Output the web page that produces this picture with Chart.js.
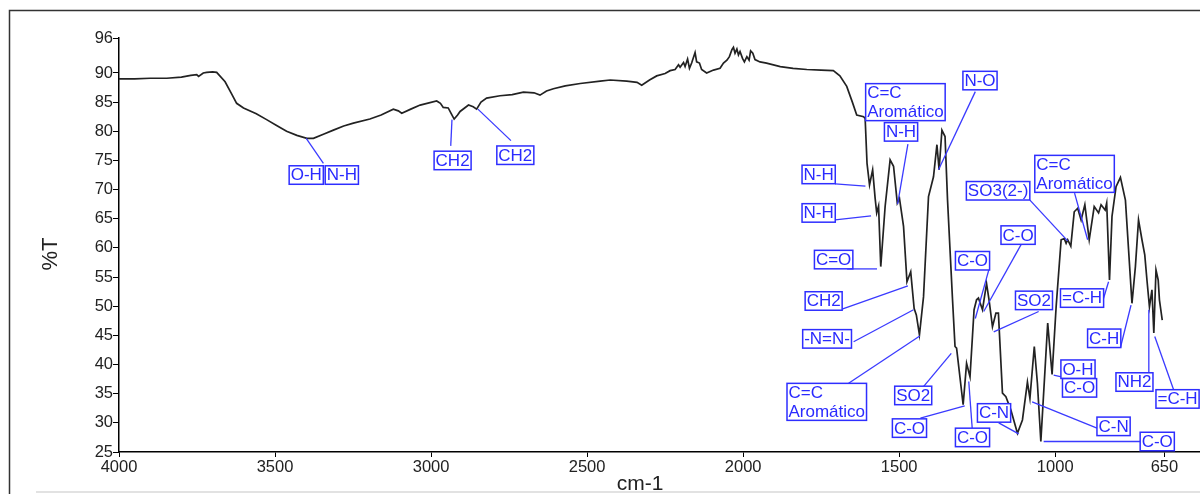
<!DOCTYPE html>
<html>
<head>
<meta charset="utf-8">
<script src="https://cdn.jsdelivr.net/npm/chart.js@4.4.1/dist/chart.umd.min.js"></script>
<style>
    html, body { margin: 0; padding: 0; background: #fff; }
    #wrap { width: 1200px; height: 494px; position: relative; }
</style>
</head>
<body>
<div id="wrap"><canvas id="myChart"></canvas></div>
<script>
// spectrum (cm-1 / %T)
var wavenumbers = [
    4000, 3950, 3900, 3847, 3800, 3770, 3751, 3745, 3730, 3719,
    3700, 3687, 3660, 3640, 3623, 3601, 3560, 3527, 3495, 3463,
    3430, 3398, 3377, 3345, 3313, 3280, 3249, 3196, 3160, 3121,
    3105, 3094, 3065, 3035, 2982, 2970, 2961, 2945, 2935, 2926,
    2915, 2907, 2880, 2865, 2854, 2840, 2822, 2779, 2740, 2704,
    2670, 2651, 2630, 2608, 2570, 2522, 2458, 2426, 2373, 2340,
    2325, 2300, 2277, 2250, 2234, 2218, 2207, 2202, 2191, 2186,
    2178, 2172, 2165, 2154, 2149, 2140, 2133, 2117, 2095, 2074,
    2063, 2052, 2044, 2036, 2031, 2026, 2020, 2015, 2010, 2002,
    1996, 1988, 1981, 1976, 1969, 1962, 1946, 1925, 1881, 1840,
    1796, 1750, 1711, 1690, 1668, 1650, 1636, 1614, 1609, 1603,
    1595, 1585, 1577, 1572, 1566, 1559, 1545, 1529, 1518, 1506,
    1499, 1486, 1475, 1463, 1452, 1445, 1435, 1422, 1406, 1390,
    1379, 1372, 1363, 1353, 1345, 1329, 1321, 1316, 1295, 1284,
    1273, 1260, 1252, 1246, 1233, 1220, 1212, 1201, 1190, 1182,
    1169, 1158, 1142, 1121, 1105, 1089, 1081, 1067, 1057, 1046,
    1024, 1010, 997, 981, 971, 965, 960, 950, 939, 928,
    917, 905, 891, 875, 861, 853, 840, 835, 826, 818,
    805, 791, 775, 754, 743, 733, 722, 713, 706, 698,
    690, 684, 677, 670, 666, 657
];
var transmittance = [
    89.0, 89.0, 89.1, 89.1, 89.3, 89.6, 89.7, 89.4, 90.0, 90.1,
    90.2, 90.1, 88.5, 86.5, 84.8, 84.0, 83.0, 82.0, 81.0, 80.0,
    79.3, 78.8, 78.8, 79.5, 80.2, 80.9, 81.4, 82.1, 82.8, 83.8,
    83.5, 83.1, 83.8, 84.5, 85.2, 84.8, 84.1, 84.0, 83.0, 82.1,
    82.8, 83.4, 84.5, 84.2, 83.8, 85.0, 85.7, 86.1, 86.3, 86.7,
    86.6, 86.2, 86.9, 87.3, 87.8, 88.2, 88.6, 88.8, 88.6, 88.4,
    87.9, 88.8, 89.5, 89.9, 90.4, 90.6, 91.4, 91.0, 91.8, 91.1,
    92.4, 90.8, 91.7, 93.5, 91.9, 91.7, 90.6, 90.0, 90.5, 90.8,
    91.7, 92.2, 92.8, 94.0, 94.4, 93.4, 94.1, 93.1, 93.7, 92.5,
    91.9, 92.8, 92.2, 93.8, 93.4, 92.3, 91.9, 91.7, 91.1, 90.8,
    90.6, 90.5, 90.4, 89.5, 87.7, 85.0, 82.8, 82.5, 82.2, 74.5,
    70.8, 73.4, 68.5, 66.0, 67.2, 56.8, 67.1, 75.1, 74.0, 67.7,
    68.5, 63.7, 54.2, 55.9, 49.6, 48.5, 45.1, 51.6, 68.8, 72.2,
    77.7, 73.4, 80.2, 79.1, 68.2, 51.1, 43.1, 42.8, 33.1, 40.2,
    37.9, 49.4, 51.1, 51.4, 49.4, 53.9, 51.1, 46.5, 48.8, 48.8,
    35.1, 34.5, 32.2, 28.2, 30.5, 37.0, 34.2, 43.1, 36.8, 26.8,
    47.1, 38.3, 49.9, 61.4, 61.6, 60.8, 61.4, 60.3, 66.2, 66.8,
    64.8, 67.4, 61.4, 67.1, 66.0, 67.4, 66.5, 67.7, 54.5, 65.4,
    70.5, 72.1, 68.2, 50.5, 56.8, 64.8, 61.4, 58.8, 54.5, 49.9,
    52.8, 45.4, 56.2, 54.5, 51.1, 47.6
];

var xTicks = [4000, 3500, 3000, 2500, 2000, 1500, 1000, 650];
var yTicks = [25, 30, 35, 40, 45, 50, 55, 60, 65, 70, 75, 80, 85, 90, 96];

// peak labels
var labelText = ['O-H', 'N-H', 'CH2', 'CH2', 'C=C\nAromático', 'N-H', 'N-O', 'N-H', 'N-H', 'C=O',
    'CH2', '-N=N-', 'C=C\nAromático', 'SO2', 'C-O', 'C-O', 'C-O', 'C-O', 'SO2', 'SO3(2-)',
    'C=C\nAromático', '=C-H', 'C-H', 'O-H', 'C-O', 'NH2', '=C-H', 'C-N', 'C-N', 'C-O'];
// label box centres, in cm-1 / %T
var labelAt = [[3400, 72.5], [3286, 72.5], [2931, 75.0], [2730, 75.9], [1480, 85.0], [1494, 79.9],
    [1241, 88.7], [1758, 72.6], [1758, 66.0], [1710, 58.0], [1742, 50.9], [1731, 44.4],
    [1732, 33.6], [1455, 34.7], [1467, 29.1], [1265, 27.5], [1265, 57.8], [1119, 62.2],
    [1068, 51.0], [1183, 69.8], [938, 72.7], [914, 51.4], [843, 44.5], [927, 39.2],
    [922, 36.0], [746, 37.0], [608, 34.1], [1196, 31.7], [813, 29.4], [673, 26.8]];
// leader lines, label end -> peak end
var leaderLine = [[3345, 74.5, 3400, 78.8], null, [2937, 77.5, 2933, 82.0], [2744, 78.4, 2850, 83.8],
    null, [1472, 77.8, 1505, 67.5], [1256, 86.8, 1374, 73.4], [1705, 71.0, 1608, 70.6],
    [1705, 64.8, 1590, 65.5], [1667, 56.4, 1571, 56.4], [1683, 49.5, 1472, 53.5],
    [1646, 43.9, 1454, 49.4], [1662, 36.8, 1434, 44.9], [1422, 36.2, 1333, 41.9],
    [1432, 30.8, 1290, 32.9], [1266, 29.1, 1277, 37.1], [1213, 56.2, 1256, 47.9],
    [1108, 60.7, 1229, 49.1], [1053, 49.1, 1197, 45.6], [1081, 68.2, 960, 61.2],
    [938, 69.4, 896, 61.4], [846, 51.2, 829, 54.2], [791, 42.9, 757, 50.2], null,
    [980, 37.9, 1005, 38.2], [700, 38.5, 700, 49.4], [620, 35.6, 681, 44.8],
    [1181, 30.0, 1117, 28.1], [866, 29.1, 1074, 33.6], [727, 26.8, 1037, 26.8]];

var FONT = '"Liberation Sans", Arial, Helvetica, sans-serif';

var framePlugin = {
    id: 'frame',
    beforeDraw: function (chart) {
        var ctx = chart.ctx;
        ctx.save();
        ctx.fillStyle = '#fff';
        ctx.fillRect(0, 0, chart.width, chart.height);
        ctx.strokeStyle = '#333';
        ctx.lineWidth = 1.5;
        ctx.beginPath();
        ctx.moveTo(9.5, chart.height);
        ctx.lineTo(9.5, 10.5);
        ctx.lineTo(chart.width, 10.5);
        ctx.stroke();
        ctx.strokeStyle = '#e2e2e2';
        ctx.lineWidth = 2;
        ctx.beginPath();
        ctx.moveTo(36, 492);
        ctx.lineTo(chart.width, 492);
        ctx.stroke();
        // axis titles
        ctx.fillStyle = '#222';
        ctx.font = '21px ' + FONT;
        ctx.textAlign = 'center';
        ctx.textBaseline = 'middle';
        ctx.fillText('cm-1', 640, 484);
        ctx.translate(51, 254);
        ctx.rotate(-Math.PI / 2);
        ctx.font = '22px ' + FONT;
        ctx.fillText('%T', 0, 0);
        ctx.restore();
    }
};

var labelPlugin = {
    id: 'peakLabels',
    afterDatasetsDraw: function (chart) {
        var ctx = chart.ctx, xs = chart.scales.x, ys = chart.scales.y;
        var i;
        ctx.save();
        ctx.strokeStyle = '#3a3aff';
        ctx.lineWidth = 1.3;
        for (i = 0; i < leaderLine.length; i++) {
            var l = leaderLine[i];
            if (!l) continue;
            ctx.beginPath();
            ctx.moveTo(xs.getPixelForValue(l[0]), ys.getPixelForValue(l[1]));
            ctx.lineTo(xs.getPixelForValue(l[2]), ys.getPixelForValue(l[3]));
            ctx.stroke();
        }
        ctx.font = '17px ' + FONT;
        ctx.textAlign = 'left';
        ctx.textBaseline = 'middle';
        for (i = 0; i < labelText.length; i++) {
            var lines = labelText[i].split('\n');
            var w = 0;
            lines.forEach(function (t) { w = Math.max(w, ctx.measureText(t).width); });
            w += 3;
            var h = lines.length * 18.5;
            var left = xs.getPixelForValue(labelAt[i][0]) - w / 2;
            var top = ys.getPixelForValue(labelAt[i][1]) - h / 2;
            ctx.fillStyle = '#fff';
            ctx.fillRect(left, top, w, h);
            ctx.strokeStyle = '#2e2eff';
            ctx.lineWidth = 1.5;
            ctx.strokeRect(left, top, w, h);
            ctx.fillStyle = '#2a2aff';
            for (var k = 0; k < lines.length; k++) {
                ctx.fillText(lines[k], left + 1.5, top + 10 + k * 18.5);
            }
        }
        ctx.restore();
    }
};

var points = wavenumbers.map(function (w, i) { return { x: w, y: transmittance[i] }; });

var ctx = document.getElementById('myChart');

var chartGraph = new Chart(ctx, {
    type: 'line',
    data: {
        datasets: [{
            data: points,
            borderColor: '#222',
            borderWidth: 1.7,
            pointRadius: 0,
            tension: 0,
            fill: false
        }]
    },
    options: {
        responsive: true,
        maintainAspectRatio: false,
        animation: false,
        events: [],
        layout: { padding: { top: 38, right: 0, bottom: 0, left: 0 } },
        plugins: {
            legend: { display: false },
            tooltip: { enabled: false }
        },
        scales: {
            x: {
                type: 'linear',
                reverse: true,
                min: 536,
                max: 4000,
                afterBuildTicks: function (scale) {
                    scale.ticks = xTicks.map(function (v) { return { value: v }; });
                },
                afterFit: function (scale) { scale.height = 42; },
                ticks: {
                    autoSkip: false,
                    maxRotation: 0,
                    padding: 1,
                    color: '#222',
                    font: { family: FONT, size: 16.5 },
                    callback: function (v) { return String(v); }
                },
                grid: { display: true, drawOnChartArea: false, drawTicks: true, tickLength: 5, color: '#000', lineWidth: 1 },
                border: { display: true, color: '#000', width: 1.5 },
                title: { display: false }
            },
            y: {
                min: 25,
                max: 96,
                afterBuildTicks: function (scale) {
                    scale.ticks = yTicks.map(function (v) { return { value: v }; });
                },
                afterFit: function (scale) { scale.width = 119; },
                ticks: {
                    autoSkip: false,
                    padding: 0,
                    color: '#222',
                    font: { family: FONT, size: 16.5 },
                    callback: function (v) { return String(v); }
                },
                grid: { display: true, drawOnChartArea: false, drawTicks: true, tickLength: 6, color: '#000', lineWidth: 1 },
                border: { display: true, color: '#000', width: 1.5 }
            }
        }
    },
    plugins: [framePlugin, labelPlugin]
});
</script>
</body>
</html>
